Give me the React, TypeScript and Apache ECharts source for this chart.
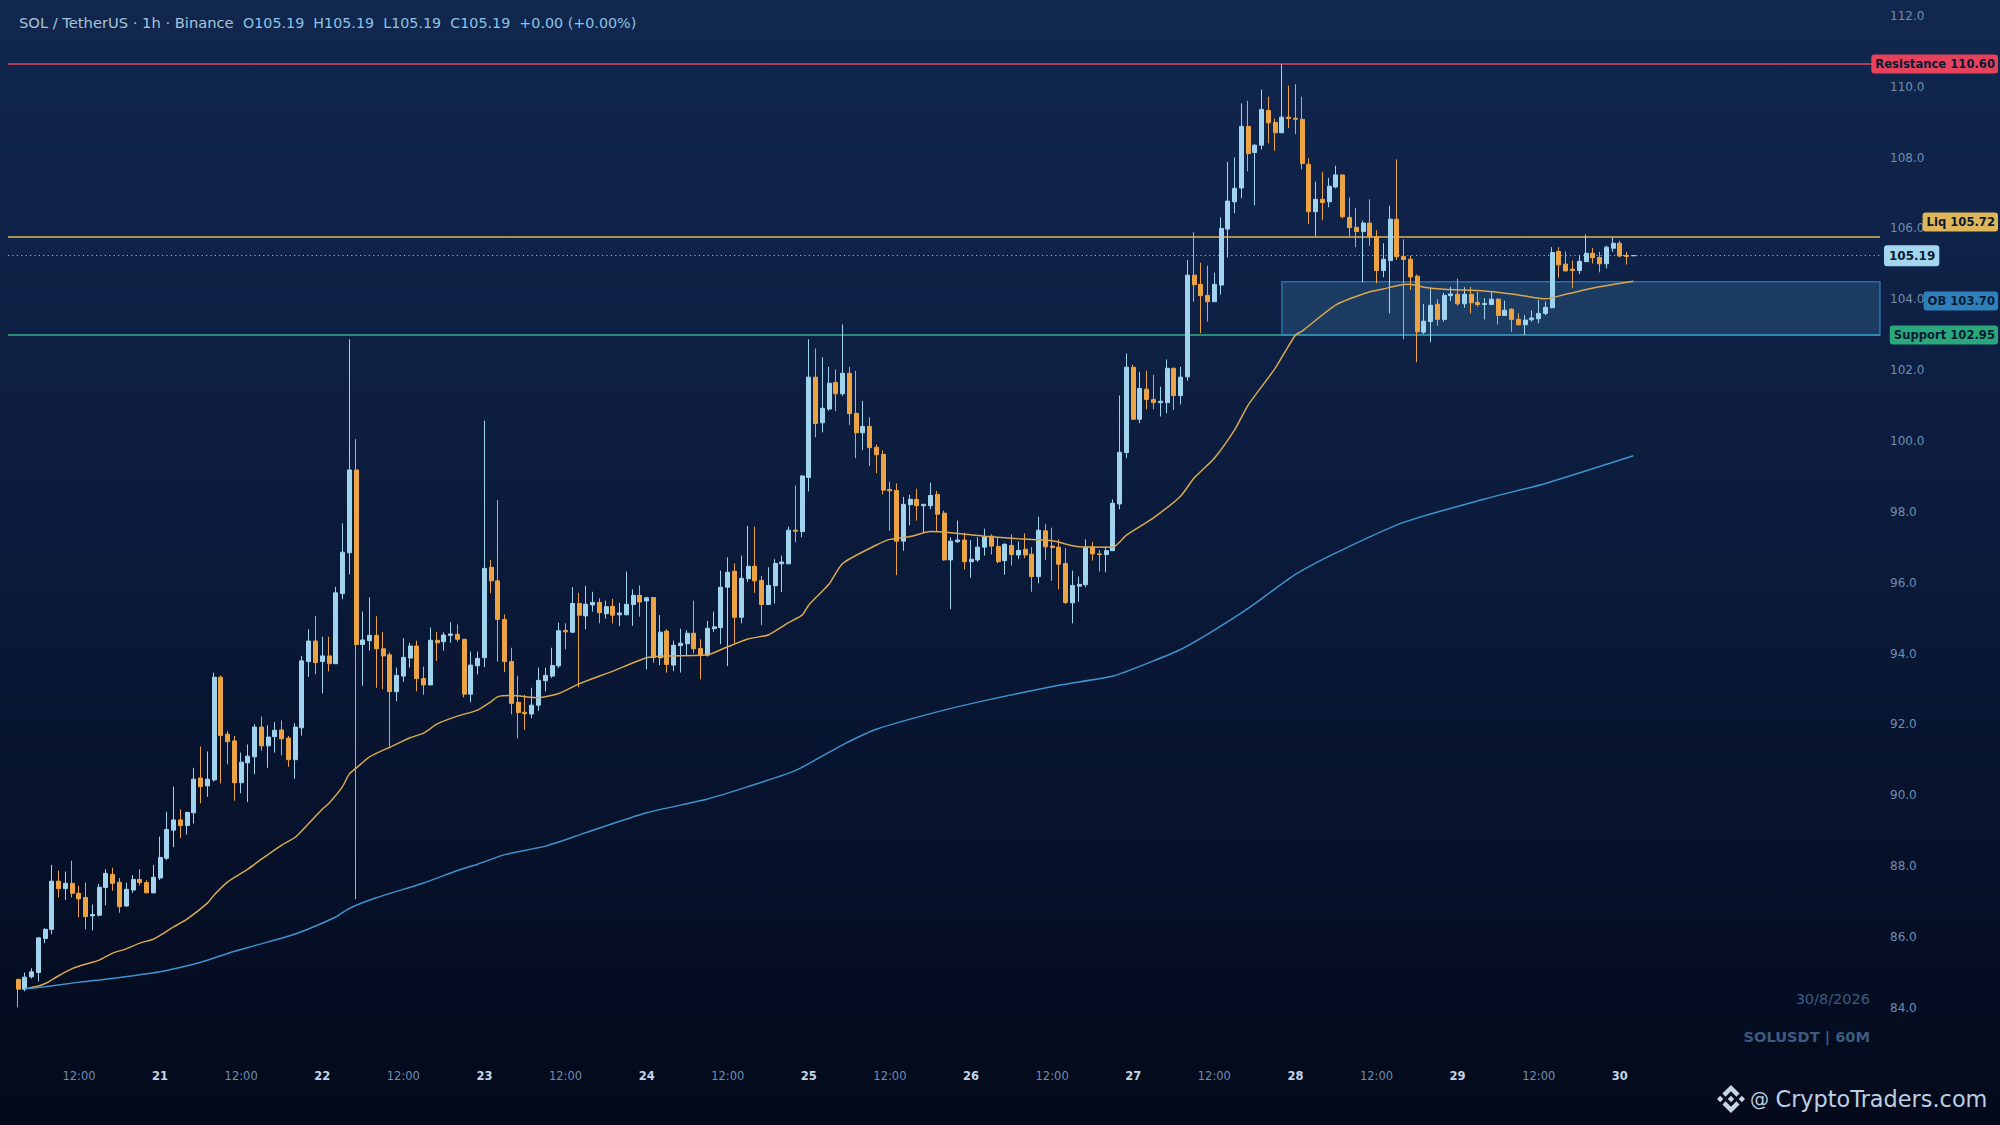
import React, { useEffect, useRef } from "react";
import * as echarts from "echarts";

// ---- candle values, one per hour from 20 Aug 03:00 to 30 Aug 02:00 ----
const opens = [
  84.76,84.48,84.83,84.95,85.91,86.17,87.53,87.32,87.47,87.19,
  87.07,86.55,86.57,87.35,87.72,87.50,86.83,87.28,87.58,87.49,
  87.20,87.62,88.18,88.97,89.26,89.10,89.46,90.44,90.22,90.39,
  93.29,91.68,91.49,90.31,90.87,91.04,91.88,91.35,91.61,91.80,
  91.57,90.96,91.86,93.73,94.31,93.73,93.89,93.67,95.65,96.80,
  99.14,94.21,94.32,94.47,94.09,93.92,92.88,93.32,93.83,94.17,
  93.25,93.07,94.33,94.29,94.47,94.50,94.36,92.81,93.61,93.84,
  96.39,96.01,94.92,93.73,92.58,92.30,92.25,92.50,93.19,93.32,
  93.61,94.61,94.56,95.37,95.02,95.33,95.40,95.08,95.29,95.05,
  95.05,95.34,95.60,95.44,95.54,93.84,94.59,93.63,94.18,94.23,
  94.53,94.10,93.91,94.66,94.69,95.83,96.28,94.98,96.07,96.42,
  96.02,95.34,95.87,96.49,96.49,97.44,97.40,98.93,101.76,100.47,
  100.86,101.61,101.29,101.87,100.74,100.19,100.37,99.78,99.58,98.59,
  98.56,97.13,98.16,98.31,98.13,98.13,98.45,97.92,96.60,97.11,
  97.16,96.55,96.60,96.96,97.27,96.98,96.58,97.01,96.74,96.90,
  96.76,96.13,97.42,96.99,96.96,96.50,95.39,95.86,95.90,96.96,
  96.77,96.75,96.86,98.18,99.63,102.04,100.57,101.42,101.13,101.04,
  101.04,102.01,101.24,101.77,104.64,104.38,104.07,103.89,104.36,105.94,
  106.71,107.10,108.84,108.10,108.31,109.29,108.95,108.66,109.10,109.07,
  109.04,107.77,106.43,106.78,106.71,107.13,107.47,106.27,105.99,105.87,
  106.11,105.73,104.77,105.05,106.22,105.17,105.09,104.61,103.03,103.33,
  103.82,103.39,104.06,104.10,103.83,104.10,103.87,103.81,103.81,103.96,
  103.50,103.68,103.39,103.24,103.38,103.41,103.56,103.72,105.31,104.95,
  104.81,104.77,105.02,105.26,105.14,104.96,105.40,105.54,105.20,105.19,
];
const closes = [
  84.48,84.82,84.97,85.93,86.17,87.53,87.32,87.47,87.19,87.03,
  86.53,86.59,87.36,87.75,87.47,86.81,87.30,87.58,87.49,87.20,
  87.64,88.20,88.99,89.26,89.10,89.47,90.41,90.20,90.41,93.29,
  91.64,91.47,90.31,90.89,91.06,91.88,91.35,91.60,91.79,91.55,
  90.96,91.88,93.75,94.31,93.70,93.89,93.67,95.67,96.82,99.14,
  94.21,94.34,94.47,94.09,93.89,92.88,93.34,93.85,94.17,93.25,
  93.07,94.33,94.26,94.48,94.51,94.36,92.81,93.63,93.82,96.36,
  96.01,94.92,93.73,92.55,92.29,92.26,92.50,93.20,93.34,93.62,
  94.60,94.57,95.37,95.04,95.35,95.40,95.11,95.28,95.04,95.10,
  95.35,95.60,95.41,95.53,93.84,94.56,93.65,94.19,94.25,94.53,
  94.09,93.90,94.67,94.71,95.83,96.25,94.98,96.08,96.42,96.01,
  95.34,95.88,96.50,96.54,97.44,97.41,98.97,101.76,100.45,100.88,
  101.59,101.29,101.87,100.73,100.19,100.37,99.77,99.57,98.57,98.55,
  97.13,98.17,98.31,98.13,98.17,98.42,97.89,96.60,97.13,97.16,
  96.55,96.62,96.96,97.25,96.99,96.55,97.04,96.75,96.87,96.74,
  96.13,97.44,96.97,96.95,96.48,95.40,95.88,95.91,96.96,96.77,
  96.75,96.86,98.20,99.64,102.04,100.57,101.44,101.13,101.04,101.08,
  102.01,101.24,101.76,104.64,104.37,104.06,103.89,104.38,105.96,106.73,
  107.09,108.84,108.07,108.31,109.32,108.94,108.66,109.10,109.06,109.04,
  107.79,106.43,106.78,106.69,107.15,107.47,106.29,105.98,105.87,106.11,
  105.73,104.77,105.09,106.22,105.16,105.08,104.59,103.04,103.34,103.79,
  103.39,104.07,104.11,103.83,104.10,103.86,103.81,103.84,103.96,103.50,
  103.65,103.39,103.24,103.37,103.43,103.56,103.73,105.28,104.93,104.76,
  104.77,105.03,105.26,105.13,104.96,105.43,105.54,105.18,105.17,105.19,
];
const lows = [
  83.97,84.42,84.78,84.70,85.78,86.03,87.07,87.00,87.07,86.51,
  86.17,86.14,86.53,86.85,87.26,86.64,86.81,87.20,87.41,87.19,
  87.19,87.56,88.13,88.49,88.75,88.85,89.16,89.73,89.91,90.34,
  90.29,90.83,89.80,90.01,89.76,90.55,91.21,90.73,91.16,91.08,
  90.76,90.42,91.64,93.30,93.37,92.83,93.45,93.67,95.49,96.19,
  87.02,93.05,94.04,92.99,92.95,91.33,92.61,93.16,93.56,92.89,
  92.79,93.07,93.75,94.04,94.26,94.29,92.72,92.58,93.37,93.57,
  95.66,93.73,93.43,92.24,91.56,91.80,92.13,92.34,92.89,93.27,
  93.55,94.08,94.54,93.00,94.64,95.14,94.81,94.94,94.81,94.73,
  95.04,94.74,95.00,93.51,93.70,93.63,93.42,93.46,93.42,93.89,
  93.96,93.23,93.87,94.57,94.22,93.60,94.25,94.81,95.98,95.67,
  94.76,95.34,95.37,95.69,96.49,97.10,97.24,98.53,100.06,100.20,
  100.81,100.80,101.23,100.41,99.47,99.70,99.25,99.05,98.45,97.42,
  96.17,96.86,97.58,97.71,97.38,98.03,97.40,96.58,95.21,97.09,
  96.33,96.10,96.55,96.72,96.75,96.50,96.18,96.44,96.62,96.65,
  95.70,95.94,96.60,96.01,95.77,95.35,94.81,95.42,95.83,96.58,
  96.27,96.25,96.86,98.03,99.47,100.55,100.46,100.85,100.85,100.65,
  100.74,100.83,100.99,101.66,103.89,103.00,103.33,103.89,104.09,105.14,
  106.39,106.81,107.57,106.61,108.19,108.36,108.15,108.66,108.79,108.62,
  107.63,106.08,105.73,106.19,106.56,107.09,106.24,105.73,105.43,104.44,
  105.47,104.41,104.58,103.56,105.07,102.83,104.22,102.18,102.97,102.74,
  103.21,103.33,103.91,103.78,103.72,103.56,103.75,103.39,103.80,103.25,
  103.50,103.04,103.21,102.95,103.33,103.28,103.51,103.70,104.57,104.74,
  104.27,104.67,105.02,104.97,104.72,104.83,105.30,105.14,104.94,105.19,
];
const highs = [
  84.76,84.95,85.07,85.93,86.20,87.99,87.83,87.80,88.11,87.40,
  87.49,86.87,87.45,87.87,87.91,87.62,87.49,87.70,87.87,87.56,
  87.99,88.79,89.49,90.20,89.56,89.49,90.73,91.33,91.19,93.42,
  93.34,91.77,91.63,91.16,91.39,91.96,92.18,91.93,92.02,92.07,
  91.63,91.99,93.89,94.64,95.02,94.43,94.43,95.84,97.63,102.83,
  100.01,95.14,95.54,95.01,94.57,93.99,93.56,94.39,94.26,94.32,
  93.59,94.69,94.57,94.56,94.84,94.78,94.36,94.01,94.01,100.53,
  96.60,98.29,95.06,94.12,93.33,92.79,92.99,93.56,93.56,94.12,
  94.83,94.81,95.83,95.67,95.87,95.70,95.52,95.45,95.50,95.39,
  96.27,95.77,95.88,95.56,95.54,95.04,94.64,94.32,94.66,94.62,
  95.45,94.36,94.88,95.14,96.30,96.67,96.50,96.72,97.56,97.54,
  96.15,96.39,96.62,96.72,97.54,98.70,99.00,102.83,102.57,102.32,
  102.05,101.98,103.25,102.05,101.94,101.09,100.63,99.86,99.69,98.81,
  98.76,98.38,98.44,98.61,98.17,98.78,98.55,97.99,97.24,97.71,
  97.37,97.16,97.24,97.48,97.32,97.24,97.07,97.32,97.12,97.35,
  96.96,97.82,97.61,97.51,97.18,96.93,96.30,96.13,97.18,97.11,
  96.88,96.97,98.31,101.24,102.43,102.11,101.91,101.94,101.82,101.49,
  102.26,102.03,102.05,105.07,105.85,104.99,104.91,104.71,106.27,107.84,
  107.96,109.49,109.56,108.33,109.88,109.68,109.06,110.60,109.99,110.03,
  109.68,107.94,107.28,107.56,107.39,107.73,107.47,106.83,106.54,106.18,
  106.78,105.91,105.54,106.60,107.91,105.65,105.19,104.66,103.83,104.27,
  103.96,104.14,104.31,104.54,104.30,104.31,104.17,103.99,104.16,103.99,
  103.92,103.70,103.56,103.51,103.64,103.94,103.89,105.43,105.43,105.31,
  105.05,105.21,105.79,105.41,105.30,105.47,105.71,105.61,105.30,105.19,
];

// ---- moving averages at these candle numbers ----
const fastAt = [1,2,3,4,6,8,9,11,12,14,16,18,20,21,23,25,28,29,31,34,36,39,41,43,45,46,48,49,50,52,54,55,58,60,62,65,68,70,71,73,77,80,83,88,93,96,102,105,108,111,114,116,117,120,122,127,129,132,135,138,143,148,153,157,162,164,168,172,174,177,180,182,186,189,190,195,200,202,204,206,208,211,217,222,226,229,234,239];
const fastMa = [84.49,84.53,84.57,84.64,84.86,85.06,85.13,85.24,85.30,85.50,85.62,85.78,85.89,86.00,86.24,86.46,86.91,87.14,87.51,87.87,88.15,88.55,88.77,89.16,89.56,89.73,90.20,90.56,90.72,91.04,91.23,91.31,91.58,91.71,91.97,92.19,92.36,92.60,92.74,92.77,92.71,92.83,93.10,93.46,93.84,93.89,93.92,94.15,94.37,94.48,94.83,95.04,95.33,95.92,96.50,97.02,97.18,97.26,97.40,97.37,97.27,97.20,97.14,96.97,96.96,97.30,97.79,98.40,98.91,99.47,100.27,100.97,102.01,102.95,103.06,103.80,104.17,104.25,104.34,104.38,104.30,104.24,104.19,104.08,103.97,104.10,104.31,104.47];
const slowAt = [1,4,9,12,17,21,25,28,31,35,41,47,49,53,60,65,68,72,78,84,93,102,108,115,122,127,136,144,154,162,168,172,177,182,189,195,205,217,226,239];
const slowMa = [84.49,84.55,84.68,84.74,84.86,84.97,85.14,85.30,85.49,85.71,86.04,86.52,86.76,87.06,87.48,87.83,88.01,88.28,88.52,88.90,89.46,89.85,90.20,90.65,91.38,91.82,92.31,92.67,93.06,93.32,93.75,94.07,94.62,95.23,96.19,96.80,97.66,98.32,98.76,99.54];

// ---- price levels, zone, axis ----
const resistance = 110.6;
const liquidity = 105.72;
const lastPrice = 105.19;
const orderBlock = 103.7;
const support = 102.95;
const zoneLow = 102.95;
const zoneHigh = 104.45;
const zoneStartCandle = 187;
const firstDay = 20;
const firstHour = 3;
const emptySlotsBefore = 1;
const emptySlotsAfter = 36;

const titleHead = "SOL / TetherUS · 1h · Binance";
const titleQuote = "O105.19  H105.19  L105.19  C105.19  +0.00 (+0.00%)";
const watermarkDate = "30/8/2026";
const watermarkPair = "SOLUSDT | 60M";
const brandAt = "@";
const brandName = "CryptoTraders.com";

const UP = "#9fd3ee";
const DOWN = "#eba343";
const FONT = "DejaVu Sans";

const candleStamps = opens.map((_, i) => {
  const h = firstHour + i;
  const day = firstDay + Math.floor(h / 24);
  const hour = h % 24;
  return `${day} ${String(hour).padStart(2, "0")}:00`;
});
const categories = [
  ...Array(emptySlotsBefore).fill(""),
  ...candleStamps,
  ...Array(emptySlotsAfter).fill(""),
];
const tickText = (stamp: string) => {
  if (!stamp) return "";
  const [d, t] = stamp.split(" ");
  if (t === "00:00") return d;
  if (t === "12:00") return t;
  return "";
};
const candleData = [
  ...Array(emptySlotsBefore).fill(["-", "-", "-", "-"]),
  ...opens.map((o, i) => [o, closes[i], lows[i], highs[i]]),
];
const pairs = (at: number[], vals: number[]) =>
  at.map((c, i) => [c + emptySlotsBefore, vals[i]]);

const BINANCE =
  "M16.624 13.9202l2.7175 2.7154-7.353 7.353-7.353-7.352 2.7175-2.7164 4.6355 4.6595 4.6356-4.6595zm4.6366-4.6366L24 12l-2.7154 2.7164L18.5682 12l2.6924-2.7164zm-9.272.001l2.7163 2.6914-2.7164 2.7174v-.001L9.2721 12l2.7164-2.7154zm-9.2722-.001L5.4088 12l-2.6914 2.6924L0 12l2.7164-2.7164zM11.9885.0115l7.353 7.329-2.7174 2.7154-4.6356-4.6356-4.6355 4.6595-2.7174-2.7154 7.353-7.353z";
echarts.graphic.registerShape("binanceLogo", echarts.graphic.extendPath(BINANCE, {}));

export default function App() {
  const ref = useRef<HTMLDivElement>(null);
  useEffect(() => {
    const chart = echarts.init(ref.current!, undefined, { renderer: "svg" });
    chart.setOption({
      animation: false,
      backgroundColor: new echarts.graphic.LinearGradient(0, 0, 0, 1, [
        { offset: 0, color: "#11274e" },
        { offset: 0.3, color: "#0e2044" },
        { offset: 0.6, color: "#091734" },
        { offset: 0.85, color: "#050e24" },
        { offset: 1, color: "#040a1b" },
      ]),
      grid: { left: 8, width: 1872, top: 14.45, height: 1062.6, containLabel: false },
      xAxis: {
        type: "category",
        data: categories,
        axisLine: { show: false },
        axisTick: { show: false },
        splitLine: { show: false },
        axisLabel: {
          margin: -7,
          interval: (_: number, v: string) => tickText(v) !== "",
          formatter: (v: string) => {
            const t = tickText(v);
            return t.includes(":") ? `{h|${t}}` : `{d|${t}}`;
          },
          rich: {
            h: { fontFamily: FONT, fontSize: 11.5, color: "#6f8db0" },
            d: { fontFamily: FONT, fontSize: 11.5, fontWeight: "bold", color: "#c3d6e8" },
          },
        },
      },
      yAxis: {
        type: "value",
        position: "right",
        min: 82,
        max: 112,
        interval: 2,
        axisLine: { show: false },
        axisTick: { show: false },
        splitLine: { show: false },
        axisLabel: {
          margin: 10,
          formatter: (v: number) => (v === 82 ? "" : `{v|${v.toFixed(1)}}`),
          rich: {
            v: {
              fontFamily: FONT,
              fontSize: 12,
              color: "#6f8db0",
              padding: [3, 0, 0, 0],
            },
          },
        },
      },
      series: [
        {
          type: "candlestick",
          z: 3,
          barWidth: 4.5,
          data: candleData,
          itemStyle: {
            color: UP,
            color0: DOWN,
            borderColor: UP,
            borderColor0: DOWN,
            borderColorDoji: UP,
            borderWidth: 1,
          },
          markLine: {
            z: 1,
            silent: true,
            symbol: "none",
            label: { show: false },
            data: [
              { yAxis: resistance, lineStyle: { color: "#e6425c", width: 1.7, type: "solid" } },
              { yAxis: liquidity, lineStyle: { color: "#dfb65a", width: 1.7, type: "solid" } },
              { yAxis: lastPrice, lineStyle: { color: "#a5d6f0", width: 1.2, type: [1.2, 3.2], opacity: 0.85 } },
              { yAxis: support, lineStyle: { color: "#2fae86", width: 1.7, type: "solid" } },
            ],
          },
          markArea: {
            z: 2,
            silent: true,
            itemStyle: {
              color: "rgba(70,145,195,0.24)",
              borderColor: "rgba(54,140,205,0.7)",
              borderWidth: 1.5,
            },
            data: [
              [
                { xAxis: zoneStartCandle + emptySlotsBefore, yAxis: zoneHigh },
                { x: 1880, yAxis: zoneLow },
              ],
            ],
          },
        },
        {
          type: "line",
          z: 4,
          data: pairs(fastAt, fastMa),
          showSymbol: false,
          smooth: 0.2,
          lineStyle: { color: "#d9a850", width: 1.5 },
        },
        {
          type: "line",
          z: 4,
          data: pairs(slowAt, slowMa),
          showSymbol: false,
          smooth: 0.2,
          lineStyle: { color: "#3f93cf", width: 1.5 },
        },
      ],
    });

    const yOf = (v: number) => chart.convertToPixel({ yAxisIndex: 0 }, v) as number;
    const tag = (text: string, right: number, y: number, bg: string, align = "right", size = 11.6, pad = [4, 3, 3, 4]) => ({
      type: "text",
      z: 20,
      x: right,
      y,
      style: {
        text,
        align,
        verticalAlign: "middle",
        font: `bold ${size}px "${FONT}"`,
        fill: "#0a1a33",
        backgroundColor: bg,
        padding: pad,
        borderRadius: 3,
      },
    });
    chart.setOption({
      graphic: [
        {
          type: "text",
          z: 20,
          x: 19,
          y: 22.7,
          style: {
            text: `{a|${titleHead}  }{b|${titleQuote}}`,
            verticalAlign: "middle",
            rich: {
              a: { font: `14.7px "${FONT}"`, fill: "#a9c4d9" },
              b: { font: `14.3px "${FONT}"`, fill: "#8cc3e6" },
            },
          },
        },
        tag(`Resistance ${resistance.toFixed(2)}`, 1998, yOf(resistance), "#e6425c"),
        tag(`Liq ${liquidity.toFixed(2)}`, 1998, yOf(liquidity) - 15, "#dfb65a"),
        tag(`OB ${orderBlock.toFixed(2)}`, 1998, yOf(orderBlock) - 7.4, "#2f80ba"),
        tag(`Support ${support.toFixed(2)}`, 1998, yOf(support), "#2aa87c"),
        tag(lastPrice.toFixed(2), 1884, yOf(lastPrice), "#a5d6f0", "left", 12, [5, 4, 4, 5]),
        {
          type: "text",
          z: 20,
          x: 1870,
          y: 999,
          style: { text: watermarkDate, align: "right", verticalAlign: "middle", font: `14.5px "${FONT}"`, fill: "#3d5b80" },
        },
        {
          type: "text",
          z: 20,
          x: 1870,
          y: 1036.7,
          style: { text: watermarkPair, align: "right", verticalAlign: "middle", font: `bold 14.6px "${FONT}"`, fill: "#3d5b80" },
        },
        {
          type: "binanceLogo",
          z: 20,
          x: 1717,
          y: 1085,
          scaleX: 28 / 24,
          scaleY: 28 / 24,
          style: { fill: "#c3d5e6" },
        },
        {
          type: "text",
          z: 20,
          x: 1750,
          y: 1099,
          style: { text: brandAt, verticalAlign: "middle", font: `19px "${FONT}"`, fill: "#bcd0e2" },
        },
        {
          type: "text",
          z: 20,
          x: 1775.5,
          y: 1099,
          style: { text: brandName, verticalAlign: "middle", font: `22.4px "${FONT}"`, fill: "#bcd0e2" },
        },
      ],
    });
    return () => chart.dispose();
  }, []);
  return <div ref={ref} style={{ position: "fixed", left: 0, top: 0, width: 2000, height: 1125 }} />;
}
